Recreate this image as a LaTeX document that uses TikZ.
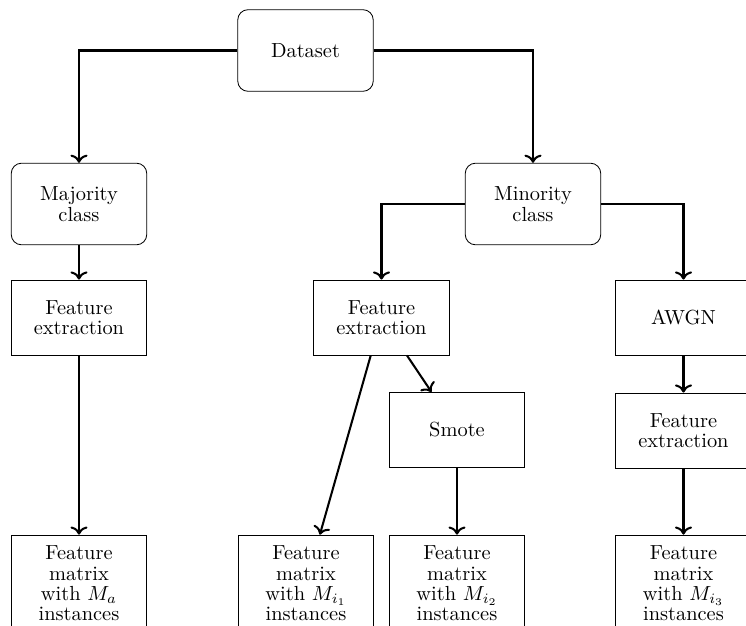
\documentclass[tikz,border=0pt]{standalone}
\usetikzlibrary{arrows.meta}
\begin{document}
\begin{tikzpicture}[x=0.4902pt,y=-0.4902pt,
  every node/.style={font=\fontsize{10}{10}\selectfont, align=center, inner sep=0pt},
  rbox/.style={draw, rounded corners=5pt, minimum width=66.4pt, minimum height=40pt},
  sbox/.style={draw, minimum width=66.4pt, minimum height=36.8pt},
  mbox/.style={draw, minimum width=66.4pt, minimum height=47.5pt},
  conn/.style={-{To[scale=1.05]}, line width=1pt}]
\clip (0,0) rectangle (746,626);
\useasboundingbox (0,0) rectangle (746,626);
\node[rbox] (ds) at (305.5,50.5) {Dataset};
\node[rbox] (maj) at (79,204) {Majority\\class};
\node[rbox] (min) at (533,204) {Minority\\class};
\node[sbox] (fea) at (79,317.5) {Feature\\extraction};
\node[sbox] (feb) at (381.5,317.5) {Feature\\extraction};
\node[sbox] (awgn) at (683.5,317.5) {AWGN};
\node[sbox] (smote) at (457,430) {Smote};
\node[sbox] (fec) at (683.5,430.5) {Feature\\extraction};
\node[mbox] (ma) at (79,583.5) {Feature\\matrix\\with $M_a$\\instances};
\node[mbox] (m1) at (306,583.5) {Feature\\matrix\\with $M_{i_1}$\\instances};
\node[mbox] (m2) at (457,583.5) {Feature\\matrix\\with $M_{i_2}$\\instances};
\node[mbox] (m3) at (683.5,583.5) {Feature\\matrix\\with $M_{i_3}$\\instances};
\draw[conn] (ds.west) -| (maj.north);
\draw[conn] (ds.east) -| (min.north);
\draw[conn] (maj) -- (fea);
\draw[conn] (min.west) -| (feb.north);
\draw[conn] (min.east) -| (awgn.north);
\draw[conn] (fea) -- (ma);
\draw[conn] (feb) -- (m1);
\draw[conn] (feb) -- (smote);
\draw[conn] (smote) -- (m2);
\draw[conn] (awgn) -- (fec);
\draw[conn] (fec) -- (m3);
\end{tikzpicture}
\end{document}
